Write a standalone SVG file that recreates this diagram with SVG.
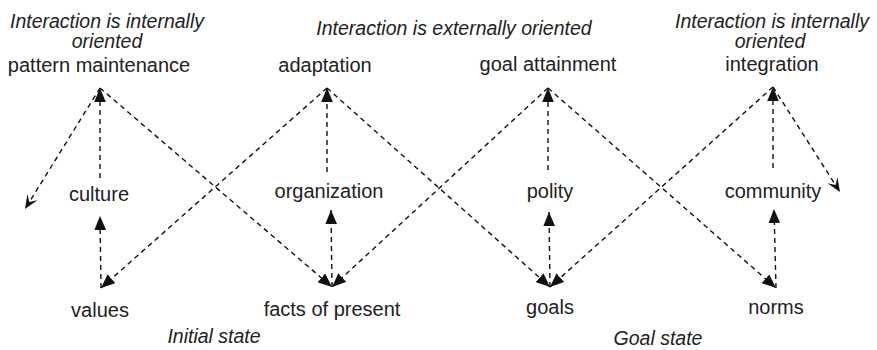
<svg xmlns="http://www.w3.org/2000/svg" width="877" height="350" viewBox="0 0 877 350">
<style>
.lbl{font-family:"Liberation Sans",Arial,sans-serif;font-size:20px;fill:#222;text-anchor:middle}
.it{font-family:"Liberation Sans",Arial,sans-serif;font-size:19.5px;font-style:italic;fill:#222;text-anchor:middle}
.c{stroke:#111;stroke-width:1.4;stroke-dasharray:5 4;fill:none}
.a{marker-end:url(#tri)}
.o{marker-end:url(#stl)}
</style>
<defs>
<marker id="tri" markerUnits="userSpaceOnUse" markerWidth="14" markerHeight="12" refX="12" refY="5" orient="auto" viewBox="0 0 12 10">
<path d="M0,0 L12,5 L0,10 z" fill="#111"/>
</marker>
<marker id="stl" markerUnits="userSpaceOnUse" markerWidth="14" markerHeight="12" refX="12" refY="5" orient="auto" viewBox="0 0 12 10">
<path d="M0,0 L12,5 L0,10 L5,5 z" fill="#111"/>
</marker>
</defs>
<g id="connectors">
<line class="c a" x1="100" y1="88" x2="332" y2="287"/>
<line class="c a" x1="327" y1="88" x2="101" y2="288"/>
<line class="c a" x1="327" y1="88" x2="550" y2="287"/>
<line class="c a" x1="548" y1="88" x2="332" y2="287"/>
<line class="c a" x1="548" y1="88" x2="776" y2="288"/>
<line class="c a" x1="773" y1="87" x2="550" y2="287"/>
<line class="c o" x1="100" y1="88" x2="25" y2="209"/>
<line class="c o" x1="773" y1="87" x2="840" y2="192"/>
<line class="c a" x1="100" y1="178" x2="100" y2="88"/>
<line class="c a" x1="327" y1="172" x2="327" y2="88"/>
<line class="c a" x1="548" y1="170" x2="548" y2="88"/>
<line class="c a" x1="773" y1="168" x2="773" y2="87"/>
<line class="c a" x1="101" y1="288" x2="100" y2="216"/>
<line class="c a" x1="332" y1="287" x2="331" y2="210"/>
<line class="c a" x1="550" y1="287" x2="549" y2="212"/>
<line class="c a" x1="776" y1="288" x2="774" y2="209"/>
</g>
<g id="header-left"><text class="it" x="107" y="28">Interaction is internally</text><text class="it" x="107" y="48">oriented</text></g>
<g id="header-mid"><text class="it" x="454" y="35">Interaction is externally oriented</text></g>
<g id="header-right"><text class="it" x="772" y="28">Interaction is internally</text><text class="it" x="770" y="48">oriented</text></g>
<g id="pattern-maintenance"><text class="lbl" x="99" y="72">pattern maintenance</text></g>
<g id="adaptation"><text class="lbl" x="325" y="72">adaptation</text></g>
<g id="goal-attainment"><text class="lbl" x="548" y="71">goal attainment</text></g>
<g id="integration"><text class="lbl" x="772" y="71">integration</text></g>
<g id="culture"><text class="lbl" x="99" y="201">culture</text></g>
<g id="organization"><text class="lbl" x="329" y="198">organization</text></g>
<g id="polity"><text class="lbl" x="550" y="198">polity</text></g>
<g id="community"><text class="lbl" x="773" y="198">community</text></g>
<g id="values"><text class="lbl" x="100" y="317">values</text></g>
<g id="facts-of-present"><text class="lbl" x="332" y="316">facts of present</text></g>
<g id="goals"><text class="lbl" x="550" y="314">goals</text></g>
<g id="norms"><text class="lbl" x="776" y="314">norms</text></g>
<g id="initial-state"><text class="it" x="214" y="343">Initial state</text></g>
<g id="goal-state"><text class="it" x="658" y="345">Goal state</text></g>
</svg>
